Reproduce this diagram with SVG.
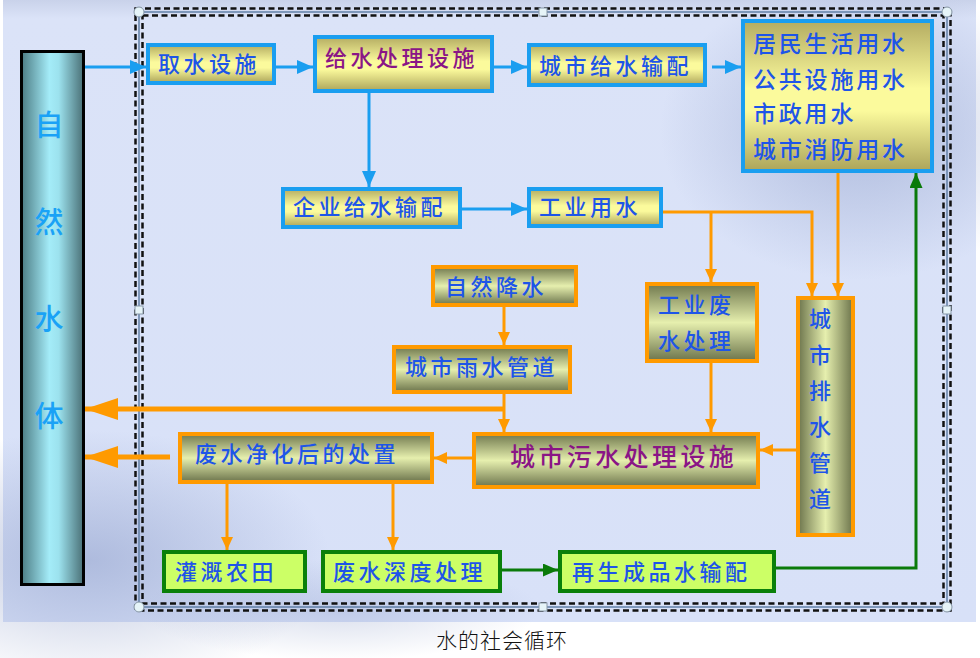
<svg xmlns="http://www.w3.org/2000/svg" width="980" height="658" viewBox="0 0 980 658">
<defs>
<linearGradient id="bg" x1="0" y1="0" x2="0" y2="1">
<stop offset="0" stop-color="#c9d2ea"/>
<stop offset="0.03" stop-color="#dbe3f8"/>
<stop offset="1" stop-color="#d8e1f8"/>
</linearGradient>
<radialGradient id="shadeA" cx="0.5" cy="0.5" r="0.5">
<stop offset="0" stop-color="#8c9cc8" stop-opacity="0.55"/>
<stop offset="1" stop-color="#8c9cc8" stop-opacity="0"/>
</radialGradient>
<linearGradient id="gYellow" x1="0" y1="0" x2="0" y2="1">
<stop offset="0" stop-color="#b4ac62"/>
<stop offset="0.45" stop-color="#fbfa9c"/>
<stop offset="0.6" stop-color="#fbfa9c"/>
<stop offset="1" stop-color="#aca45a"/>
</linearGradient>
<linearGradient id="gOlive" x1="0" y1="0" x2="0" y2="1">
<stop offset="0" stop-color="#70784e"/>
<stop offset="0.5" stop-color="#e6efae"/>
<stop offset="1" stop-color="#6c744c"/>
</linearGradient>
<linearGradient id="gOliveH" x1="0" y1="0" x2="1" y2="0">
<stop offset="0" stop-color="#6c744c"/>
<stop offset="0.5" stop-color="#e6efae"/>
<stop offset="1" stop-color="#6c744c"/>
</linearGradient>
<linearGradient id="gCyan" x1="0" y1="0" x2="1" y2="0">
<stop offset="0" stop-color="#4c7c84"/>
<stop offset="0.45" stop-color="#a4ecf8"/>
<stop offset="0.6" stop-color="#9ce2ee"/>
<stop offset="1" stop-color="#4a7076"/>
</linearGradient>
<marker id="aBlue" markerUnits="userSpaceOnUse" markerWidth="16" markerHeight="14" refX="16" refY="7" orient="auto">
<path d="M0,0 L16,7 L0,14 z" fill="#1a9ef0"/>
</marker>
<marker id="aOr" markerUnits="userSpaceOnUse" markerWidth="13" markerHeight="12" refX="13" refY="6" orient="auto">
<path d="M0,0 L13,6 L0,12 z" fill="#ff9a00"/>
</marker>
<marker id="aOrBig" markerUnits="userSpaceOnUse" markerWidth="33" markerHeight="22" refX="33" refY="11" orient="auto">
<path d="M0,0 L33,11 L0,22 z" fill="#ff9a00"/>
</marker>
<marker id="aGreen" markerUnits="userSpaceOnUse" markerWidth="15" markerHeight="13" refX="15" refY="6.5" orient="auto">
<path d="M0,0 L15,6.5 L0,13 z" fill="#0a7a0a"/>
</marker>
<style>
.bb{fill:url(#gYellow);stroke:#1a9ef0;stroke-width:4}
.ob{fill:url(#gOlive);stroke:#ff9a00;stroke-width:4}
.gb{fill:#ccff66;stroke:#0a800a;stroke-width:4}
text{font-family:"Noto Sans CJK SC","Noto Sans CJK TC",sans-serif;font-size:22px;letter-spacing:3.5px;font-weight:500}
.tb{fill:#1e55e8}
.tp{fill:#8a1586}
.tc{fill:#1aa2f6;font-size:29px;text-anchor:middle;letter-spacing:0}
.tv{fill:#1e55e8;text-anchor:middle;letter-spacing:0}
.lb{fill:none;stroke:#1a9ef0;stroke-width:3}
.lo{fill:none;stroke:#ff9a00;stroke-width:3}
.lo5{fill:none;stroke:#ff9a00;stroke-width:5}
.lg{fill:none;stroke:#0a7a0a;stroke-width:3}
.dash{fill:none;stroke:#111;stroke-width:2.5;stroke-dasharray:6 3.5}
.hd{fill:#e6f4f8;stroke:#8898a8;stroke-width:1}
</style>
</defs>

<!-- background -->
<rect x="3" y="0" width="973" height="622" fill="url(#bg)"/>
<ellipse cx="90" cy="560" rx="240" ry="130" fill="url(#shadeA)"/>
<ellipse cx="860" cy="130" rx="200" ry="150" fill="url(#shadeA)"/>
<ellipse cx="340" cy="610" rx="200" ry="50" fill="url(#shadeA)" opacity="0.6"/>

<!-- selection frame -->
<g id="frame">
<rect x="135.5" y="8.5" width="815" height="602" class="dash"/>
<rect x="142.5" y="15.5" width="801" height="588" class="dash"/>
<rect x="139" y="12" width="808" height="595" fill="none" stroke="#5a7aa2" stroke-width="1.4"/>
<circle cx="139" cy="12" r="5" class="hd"/>
<circle cx="947" cy="12" r="5" class="hd"/>
<circle cx="139" cy="607" r="5" class="hd"/>
<circle cx="947" cy="607" r="5" class="hd"/>
<rect x="539" y="8" width="8" height="8" class="hd"/>
<rect x="539" y="603" width="8" height="8" class="hd"/>
<rect x="135" y="306" width="8" height="8" class="hd"/>
<rect x="943" y="306" width="8" height="8" class="hd"/>
</g>

<!-- connectors -->
<g id="connectors">
<path class="lb" d="M85,67 H146" marker-end="url(#aBlue)"/>
<path class="lb" d="M276,67 H313" marker-end="url(#aBlue)"/>
<path class="lb" d="M494,67 H527" marker-end="url(#aBlue)"/>
<path class="lb" d="M712,67 H741" marker-end="url(#aBlue)"/>
<path class="lb" d="M369,93 V187" marker-end="url(#aBlue)"/>
<path class="lb" d="M462,209 H527" marker-end="url(#aBlue)"/>

<path class="lo" d="M663,212 H812 V296" marker-end="url(#aOr)"/>
<path class="lo" d="M711,212 V282" marker-end="url(#aOr)"/>
<path class="lo" d="M838,173 V296" marker-end="url(#aOr)"/>
<path class="lo" d="M504,307 V345" marker-end="url(#aOr)"/>
<path class="lo" d="M504,394 V432" marker-end="url(#aOr)"/>
<path class="lo" d="M711,363 V432" marker-end="url(#aOr)"/>
<path class="lo" d="M796,450 H760" marker-end="url(#aOr)"/>
<path class="lo" d="M472,458 H434" marker-end="url(#aOr)"/>
<path class="lo" d="M227,484 V550" marker-end="url(#aOr)"/>
<path class="lo" d="M393,484 V550" marker-end="url(#aOr)"/>
<path class="lo5" d="M505,409 H85" marker-end="url(#aOrBig)"/>
<path class="lo5" d="M170,457 H85" marker-end="url(#aOrBig)"/>

<path class="lg" d="M502,570 H558" marker-end="url(#aGreen)"/>
<path class="lg" d="M776,568 H916 V173" marker-end="url(#aGreen)"/>
</g>

<!-- nodes -->
<g id="n-natural">
<rect x="21.5" y="51.5" width="62" height="533" fill="url(#gCyan)" stroke="#000" stroke-width="3"/>
<text class="tc" x="49" y="136">自</text>
<text class="tc" x="49" y="233">然</text>
<text class="tc" x="49" y="330">水</text>
<text class="tc" x="49" y="427">体</text>
</g>
<g id="n-intake">
<rect class="bb" x="148" y="45" width="126" height="38"/>
<text class="tb" x="158" y="72">取水设施</text>
</g>
<g id="n-supply-treat">
<rect class="bb" x="315" y="37" width="177" height="54"/>
<text class="tp" x="325" y="66">给水处理设施</text>
</g>
<g id="n-city-supply">
<rect class="bb" x="529" y="45" width="176" height="40"/>
<text class="tb" x="539" y="74">城市给水输配</text>
</g>
<g id="n-uses">
<rect class="bb" x="743" y="21" width="189" height="150"/>
<text class="tb" x="753" y="52" style="font-size:23px;letter-spacing:2.8px">居民生活用水</text>
<text class="tb" x="753" y="88" style="font-size:23px;letter-spacing:2.8px">公共设施用水</text>
<text class="tb" x="753" y="122" style="font-size:23px;letter-spacing:2.8px">市政用水</text>
<text class="tb" x="753" y="158" style="font-size:23px;letter-spacing:2.8px">城市消防用水</text>
</g>
<g id="n-ent-supply">
<rect class="bb" x="283" y="189" width="177" height="38"/>
<text class="tb" x="293" y="215">企业给水输配</text>
</g>
<g id="n-ind-water">
<rect class="bb" x="529" y="189" width="132" height="37"/>
<text class="tb" x="539" y="215">工业用水</text>
</g>
<g id="n-precip">
<rect class="ob" x="433" y="267" width="143" height="38"/>
<text class="tb" x="445" y="295">自然降水</text>
</g>
<g id="n-rain-pipe">
<rect class="ob" x="394" y="347" width="176" height="45"/>
<text class="tb" x="405" y="375">城市雨水管道</text>
</g>
<g id="n-ind-waste">
<rect class="ob" x="647" y="284" width="110" height="77"/>
<text class="tb" x="658" y="313">工业废</text>
<text class="tb" x="658" y="349">水处理</text>
</g>
<g id="n-sewage">
<rect class="ob" x="474" y="434" width="284" height="53"/>
<text class="tp" x="510" y="466" style="font-size:25px;letter-spacing:3.4px">城市污水处理设施</text>
</g>
<g id="n-drain">
<rect x="798" y="298" width="55" height="237" fill="url(#gOliveH)" stroke="#ff9a00" stroke-width="4"/>
<text class="tv" x="820" y="327">城</text>
<text class="tv" x="820" y="363">市</text>
<text class="tv" x="820" y="399">排</text>
<text class="tv" x="820" y="435">水</text>
<text class="tv" x="820" y="471">管</text>
<text class="tv" x="820" y="507">道</text>
</g>
<g id="n-disposal">
<rect class="ob" x="180" y="434" width="252" height="48"/>
<text class="tb" x="195" y="462">废水净化后的处置</text>
</g>
<g id="n-irrigation">
<rect class="gb" x="164" y="552" width="141" height="39"/>
<text class="tb" x="175" y="580">灌溉农田</text>
</g>
<g id="n-deep">
<rect class="gb" x="323" y="552" width="177" height="39"/>
<text class="tb" x="333" y="580">废水深度处理</text>
</g>
<g id="n-reclaimed">
<rect class="gb" x="560" y="552" width="214" height="39"/>
<text class="tb" x="572" y="580">再生成品水输配</text>
</g>

<text x="502" y="648" text-anchor="middle" style="font-size:21px;letter-spacing:1px;fill:#111;font-weight:300">水的社会循环</text>
</svg>
